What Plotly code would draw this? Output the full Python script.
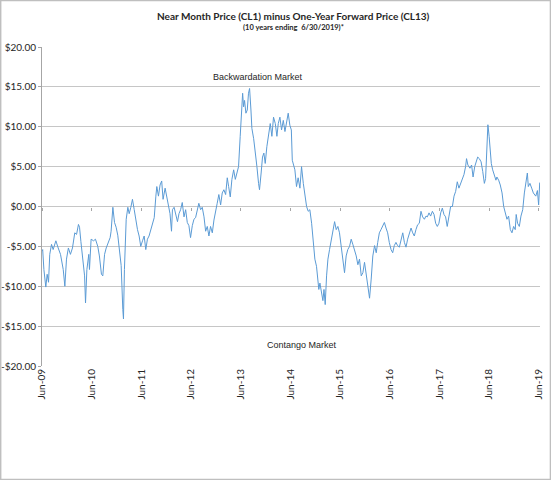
import plotly.graph_objects as go

dates = [
    "2009-06-01", "2009-06-06", "2009-06-15", "2009-06-29", "2009-07-09", "2009-07-19", "2009-07-28",
    "2009-08-10", "2009-08-22", "2009-09-11", "2009-09-28", "2009-10-15", "2009-11-04", "2009-11-16",
    "2009-11-28", "2009-12-12", "2009-12-27",
    "2010-01-11", "2010-01-28", "2010-02-10", "2010-02-24", "2010-03-04", "2010-03-14", "2010-03-28",
    "2010-04-10", "2010-04-17", "2010-04-27", "2010-05-11", "2010-05-16", "2010-05-28", "2010-06-15",
    "2010-06-29", "2010-07-16", "2010-07-28", "2010-08-12", "2010-08-22", "2010-09-04", "2010-09-16",
    "2010-09-28", "2010-10-15", "2010-10-22", "2010-11-04", "2010-11-16", "2010-11-28", "2010-12-10",
    "2010-12-22",
    "2011-01-04", "2011-01-16", "2011-01-21", "2011-01-28", "2011-02-03", "2011-02-10", "2011-02-22",
    "2011-03-04", "2011-03-16", "2011-03-28", "2011-04-10", "2011-04-22", "2011-05-04", "2011-05-16",
    "2011-05-28", "2011-06-10", "2011-06-22", "2011-07-04", "2011-07-16", "2011-07-28", "2011-08-10",
    "2011-08-22", "2011-09-04", "2011-09-16", "2011-09-23", "2011-10-05", "2011-10-17", "2011-10-29",
    "2011-11-08", "2011-11-23", "2011-12-05", "2011-12-17", "2011-12-29",
    "2012-01-09", "2012-01-16", "2012-01-28", "2012-02-10", "2012-02-22", "2012-03-04", "2012-03-16",
    "2012-03-28", "2012-04-10", "2012-04-22", "2012-05-04", "2012-05-16", "2012-05-28", "2012-06-10",
    "2012-06-22", "2012-07-04", "2012-07-16", "2012-07-28", "2012-08-10", "2012-08-22", "2012-09-04",
    "2012-09-16", "2012-09-28", "2012-10-10", "2012-10-22", "2012-11-04", "2012-11-16", "2012-11-28",
    "2012-12-10", "2012-12-22",
    "2013-01-04", "2013-01-16", "2013-01-28", "2013-02-10", "2013-02-22", "2013-03-04", "2013-03-16",
    "2013-03-28", "2013-04-10", "2013-04-22", "2013-05-04", "2013-05-16", "2013-05-28", "2013-06-05",
    "2013-06-15", "2013-06-22", "2013-06-29", "2013-07-09", "2013-07-19", "2013-07-28", "2013-08-05",
    "2013-08-15", "2013-08-22", "2013-09-04", "2013-09-16", "2013-09-28", "2013-10-10", "2013-10-17",
    "2013-10-29", "2013-11-08", "2013-11-18", "2013-11-28", "2013-12-10", "2013-12-22",
    "2014-01-04", "2014-01-16", "2014-01-28", "2014-02-10", "2014-02-22", "2014-03-04", "2014-03-16",
    "2014-03-28", "2014-04-10", "2014-04-22", "2014-05-04", "2014-05-16", "2014-05-28", "2014-06-08",
    "2014-06-15", "2014-07-04", "2014-07-16", "2014-07-28", "2014-08-10", "2014-08-22", "2014-09-04",
    "2014-09-16", "2014-09-28", "2014-10-10", "2014-10-22", "2014-11-04", "2014-11-16", "2014-11-28",
    "2014-12-10", "2014-12-17", "2014-12-27",
    "2015-01-04", "2015-01-16", "2015-01-26", "2015-02-03", "2015-02-12", "2015-02-22", "2015-03-04",
    "2015-03-16", "2015-03-28", "2015-04-10", "2015-04-22", "2015-05-04", "2015-05-16", "2015-05-28",
    "2015-06-10", "2015-06-22", "2015-07-04", "2015-07-16", "2015-07-28", "2015-08-10", "2015-08-22",
    "2015-09-04", "2015-09-16", "2015-09-28", "2015-10-10", "2015-10-22", "2015-11-04", "2015-11-16",
    "2015-11-28", "2015-12-10", "2015-12-22",
    "2016-01-04", "2016-01-16", "2016-01-28", "2016-02-10", "2016-02-22", "2016-03-04", "2016-03-16",
    "2016-03-28", "2016-04-10", "2016-04-22", "2016-05-04", "2016-05-16", "2016-05-28", "2016-06-10",
    "2016-06-22", "2016-07-04", "2016-07-16", "2016-07-28", "2016-08-10", "2016-08-22", "2016-09-04",
    "2016-09-16", "2016-09-28", "2016-10-10", "2016-10-22", "2016-11-04", "2016-11-16", "2016-11-28",
    "2016-12-10", "2016-12-22",
    "2017-01-04", "2017-01-16", "2017-01-28", "2017-02-10", "2017-02-22", "2017-03-04", "2017-03-16",
    "2017-03-28", "2017-04-10", "2017-04-22", "2017-05-04", "2017-05-16", "2017-05-28", "2017-06-10",
    "2017-06-22", "2017-07-04", "2017-07-16", "2017-07-28", "2017-08-10", "2017-08-22", "2017-09-04",
    "2017-09-16", "2017-09-28", "2017-10-10", "2017-10-22", "2017-11-04", "2017-11-16", "2017-11-28",
    "2017-12-10", "2017-12-17", "2017-12-27",
    "2018-01-11", "2018-01-23", "2018-02-03", "2018-02-15", "2018-02-27", "2018-03-09", "2018-03-21",
    "2018-04-03", "2018-04-15", "2018-04-27", "2018-05-06", "2018-05-16", "2018-05-23", "2018-06-01",
    "2018-06-10", "2018-06-17", "2018-06-27", "2018-07-09", "2018-07-21", "2018-07-28", "2018-08-10",
    "2018-08-22", "2018-09-04", "2018-09-16", "2018-09-28", "2018-10-10", "2018-10-22", "2018-11-04",
    "2018-11-16", "2018-11-28", "2018-12-10", "2018-12-17", "2018-12-27",
    "2019-01-09", "2019-01-21", "2019-02-03", "2019-02-15", "2019-02-27", "2019-03-09", "2019-03-16",
    "2019-03-28", "2019-04-10", "2019-04-22", "2019-05-10", "2019-05-22", "2019-05-31", "2019-06-08",
]

spread = [
    -5.6, -5.4, -7.9, -10.1, -8.5, -9.5, -6.0,
    -4.75, -5.4, -4.3, -5.2, -6.0, -7.9, -10.0,
    -6.6, -5.2, -6.0,
    -5.2, -3.3, -3.5, -2.25, -2.6, -4.4, -7.0,
    -8.7, -12.1, -7.9, -6.0, -7.9, -4.1, -4.3,
    -4.1, -5.0, -6.2, -8.5, -8.7, -6.0, -5.2,
    -4.6, -3.9, -3.1, -0.1, -2.0, -2.6, -3.6,
    -5.6,
    -7.4, -12.9, -14.1, -7.9, -2.9, -1.6, -0.1,
    -0.9, -0.1, 0.9, -0.4, -2.0, -2.9, -3.7,
    -5.0, -4.3, -3.7, -5.4, -4.1, -3.7, -2.9,
    -2.0, -1.4, 1.3, 2.5, 1.3, 2.7, 3.2,
    0.9, 2.3, 1.3, -0.1, -0.9,
    -3.1, -0.4, -0.1, -1.1, -1.9, -0.9, -0.4,
    0.5, -1.3, -0.4, -2.0, -2.4, -3.9, -2.4,
    -1.6, -1.4, -0.4, 0.4, -0.4, -0.1, -1.3,
    -3.1, -2.5, -3.7, -2.5, -3.3, -1.7, -0.8,
    0.4, 1.5,
    0.2, 1.7, 2.1, 1.5, 3.6, 2.5, 1.2,
    3.4, 4.6, 3.4, 4.2, 5.0, 8.8, 11.7,
    14.2, 12.5, 13.3, 11.7, 12.1, 14.2, 14.8,
    12.1, 9.8, 8.5, 6.9, 5.0, 2.9, 2.1,
    4.2, 6.2, 6.7, 5.4, 7.5, 9.2,
    10.4, 8.8, 11.2, 10.4, 8.8, 10.4, 11.2,
    9.6, 10.8, 9.4, 10.4, 11.7, 10.2, 9.6,
    5.8, 4.6, 2.5, 3.6, 2.3, 5.0, 2.9,
    1.2, 0.0, -0.6, -0.4, -2.1, -4.1, -6.6,
    -7.5, -9.1, -10.4,
    -9.6, -11.2, -11.8, -10.4, -12.3, -8.7, -6.6,
    -5.4, -4.1, -3.3, -1.9, -2.9, -2.5, -3.3,
    -5.0, -6.6, -8.3, -6.2, -5.4, -5.0, -4.1,
    -4.8, -5.4, -6.2, -7.3, -6.6, -8.7, -8.3,
    -7.0, -8.3, -10.0,
    -11.5, -9.1, -6.2, -4.9, -5.8, -4.5, -3.3,
    -2.9, -2.3, -2.0, -2.7, -3.3, -4.5, -5.4,
    -5.8, -4.9, -4.5, -4.9, -5.1, -4.1, -3.3,
    -4.5, -5.1, -4.1, -3.3, -2.7, -3.3, -3.7,
    -2.9, -2.3,
    -2.1, -0.6, -1.3, -1.6, -1.2, -1.3, -0.8,
    -1.2, -0.6, -1.0, -2.1, -2.5, -2.1, -0.8,
    -0.2, -1.0, -1.3, -2.5, -1.2, 0.0, 0.0,
    1.3, 1.9, 3.1, 2.3, 2.9, 3.5, 4.0,
    5.0, 6.0, 5.2,
    4.8, 5.2, 3.7, 5.0, 5.8, 6.2, 6.0,
    5.6, 4.4, 2.9, 3.5, 8.0, 10.25, 8.8,
    7.1, 5.4, 4.6, 4.0, 3.3, 3.7, 3.3,
    2.7, 1.7, 0.0, -1.0, -1.6, -1.2, -2.9,
    -3.3, -2.5, -2.9, -1.0, -2.1,
    -2.5, -1.2, -0.4, 1.7, 2.9, 4.2, 2.5,
    2.9, 2.3, 1.7, 1.3, 2.0, 0.2, 3.0,
]

x_tickvals = ["%d-06-01" % y for y in range(2009, 2020)]
x_ticktext = ["Jun-%02d" % (y % 100) for y in range(2009, 2020)]
y_tickvals = [20, 15, 10, 5, 0, -5, -10, -15, -20]
y_ticktext = ["$20.00", "$15.00", "$10.00", "$5.00", "$0.00",
              "-$5.00", "-$10.00", "-$15.00", "-$20.00"]

GRID = "#c6c6c6"
TEXT = "#262626"
x_range = ["2009-06-01", "2019-06-10"]

fig = go.Figure()
fig.add_trace(go.Scatter(x=dates, y=spread, mode="lines",
                         line=dict(color="#5b9bd5", width=1), showlegend=False,
                         hoverinfo="skip"))
# invisible helper so the tick-only axis along $0 gets drawn
fig.add_trace(go.Scatter(x=dates[:1], y=spread[:1], xaxis="x2", mode="markers",
                         marker=dict(opacity=0), showlegend=False, hoverinfo="skip"))

fig.update_layout(
    width=551, height=480,
    margin=dict(l=42, r=11, t=47, b=114),
    paper_bgcolor="white", plot_bgcolor="white",
    font=dict(family="Lato", size=10, color=TEXT),
    xaxis=dict(range=x_range, tickvals=x_tickvals, ticktext=x_ticktext,
               tickangle=-90, showgrid=False, zeroline=False, showline=False,
               ticks="", automargin=False, tickfont=dict(size=10, color=TEXT)),
    xaxis2=dict(range=x_range, overlaying="x", anchor="free", position=0.5,
                tickvals=x_tickvals, showticklabels=False, ticks="outside",
                ticklen=3, tickcolor="#a6a6a6", showgrid=False, zeroline=False,
                showline=False, automargin=False),
    yaxis=dict(range=[-20, 20], tickvals=y_tickvals, ticktext=y_ticktext,
               showgrid=True, gridcolor=GRID, gridwidth=1, zeroline=False,
               showline=True, linecolor="#a6a6a6", linewidth=1,
               ticks="outside", ticklen=3, tickcolor="#a6a6a6", automargin=False,
               tickfont=dict(size=10, color=TEXT)),
)

# (x center px - 42) / 498 and (366 - y center px) / 319
fig.add_annotation(text="<b>Near Month Price (CL1) minus One-Year Forward Price (CL13)</b>",
                   xref="paper", yref="paper", x=0.506, y=1.097, showarrow=False,
                   xanchor="center", yanchor="middle",
                   font=dict(family="Lato", size=10, color=TEXT))
fig.add_annotation(text="<b>(10 years ending  6/30/2019)*</b>",
                   xref="paper", yref="paper", x=0.506, y=1.060, showarrow=False,
                   xanchor="center", yanchor="middle",
                   font=dict(family="Lato", size=7.5, color=TEXT))
fig.add_annotation(text="Backwardation Market", xref="paper", yref="paper",
                   x=0.434, y=0.906, showarrow=False, xanchor="center", yanchor="middle",
                   font=dict(family="Liberation Sans", size=9, color=TEXT))
fig.add_annotation(text="Contango Market", xref="paper", yref="paper",
                   x=0.522, y=0.066, showarrow=False, xanchor="center", yanchor="middle",
                   font=dict(family="Liberation Sans", size=9, color=TEXT))

# chart-area border
fig.add_shape(type="rect", xref="paper", yref="paper",
              x0=-0.083, x1=1.021, y0=-0.356, y1=1.146,
              line=dict(color="#bfbfbf", width=1.5))

# drop the page's default body margin so the 551x480 figure fills the window
fig.write_html("out.html", config={"displayModeBar": False},
               post_script="document.body.style.margin='0px';")
